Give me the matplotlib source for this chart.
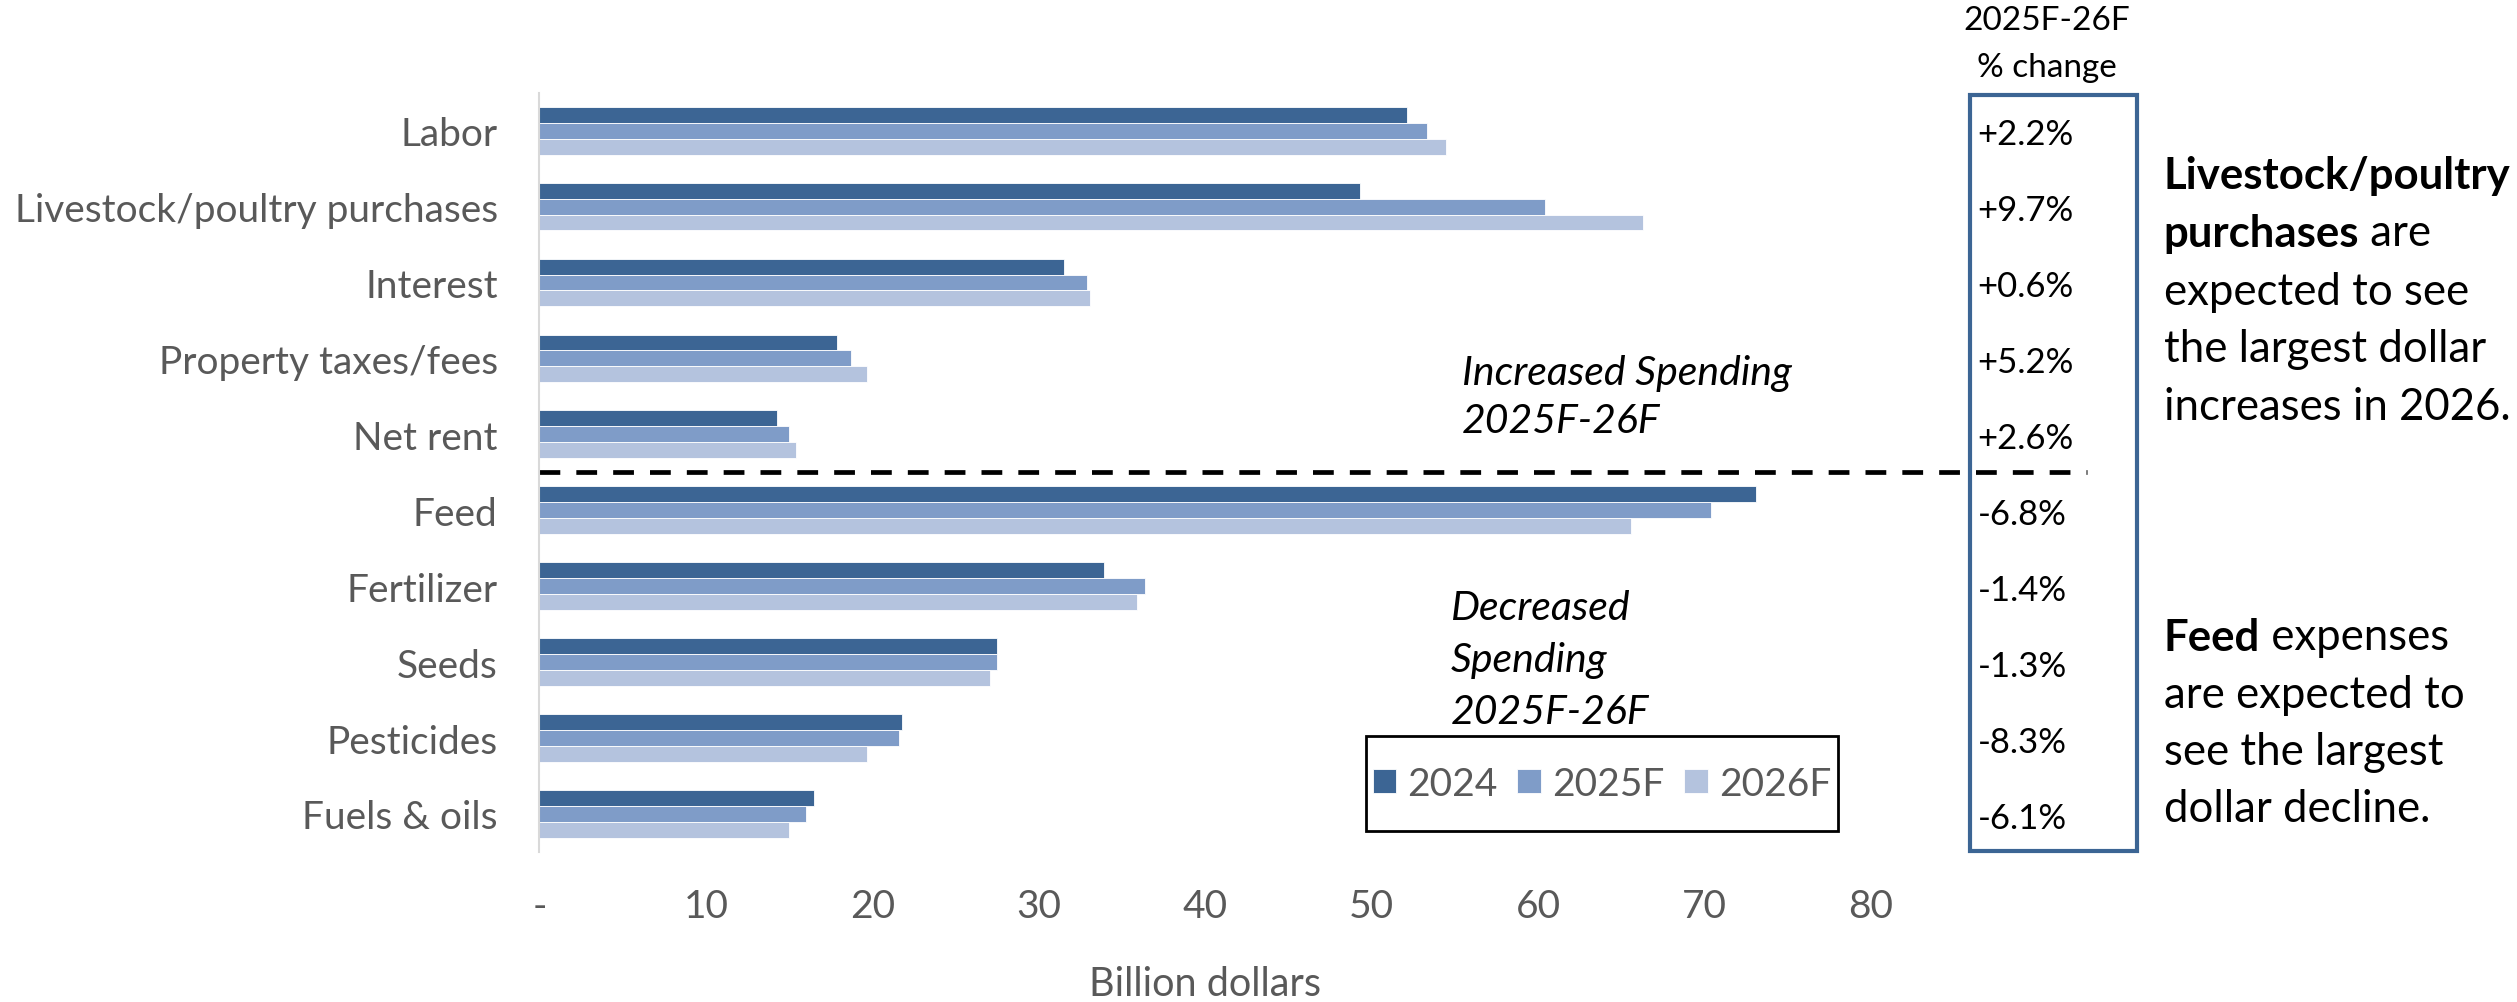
import numpy as np
import matplotlib
matplotlib.use("Agg")
import matplotlib.pyplot as plt
import matplotlib.transforms as mtransforms
from matplotlib.patches import Rectangle

# data (billion dollars)
categories = ["Labor", "Livestock/poultry purchases", "Interest", "Property taxes/fees", "Net rent",
              "Feed", "Fertilizer", "Seeds", "Pesticides", "Fuels & oils"]
vals_2024 = [52.1, 49.3, 31.5, 17.9, 14.3, 73.1, 33.9, 27.5, 21.8, 16.5]
vals_2025f = [53.3, 60.4, 32.9, 18.7, 15.0, 70.4, 36.4, 27.5, 21.6, 16.0]
vals_2026f = [54.5, 66.3, 33.1, 19.7, 15.4, 65.6, 35.9, 27.1, 19.7, 15.0]
series_names = ["2024", "2025F", "2026F"]
pct_change = ["+2.2%", "+9.7%", "+0.6%", "+5.2%", "+2.6%", "-6.8%", "-1.4%", "-1.3%", "-8.3%", "-6.1%"]
n_increase = 5  # first 5 categories go up
x_ticks = [0, 10, 20, 30, 40, 50, 60, 70, 80]
x_tick_labels = ["-", "10", "20", "30", "40", "50", "60", "70", "80"]

plt.rcParams["font.family"] = ["Lato", "DejaVu Sans"]
gray = "#595959"
colors = ["#3C6594", "#7F9CC8", "#B4C3DE"]

fig = plt.figure(figsize=(25.17, 10.03), dpi=100)
ax = fig.add_axes([0.2143, 0.1496, 0.529, 0.757])

y = np.arange(len(categories))
h = 0.21
for i, (vals, name, c) in enumerate(zip([vals_2024, vals_2025f, vals_2026f], series_names, colors)):
    ax.barh(y + (i - 1) * h, vals, height=h, color=c, edgecolor="white", linewidth=0.6, label=name)

ax.set_ylim(len(categories) - 0.5, -0.5)
ax.set_xlim(0, 80)
ax.set_yticks(y, categories)
ax.set_xticks(x_ticks, x_tick_labels)
ax.tick_params(length=0, labelsize=28, labelcolor=gray)
ax.tick_params(axis="y", pad=30)
ax.tick_params(axis="x", pad=26)
for s in ["top", "right", "bottom"]:
    ax.spines[s].set_visible(False)
ax.spines["left"].set_color("#D9D9D9")
ax.spines["left"].set_linewidth(1.5)

# divider between increased / decreased spending
ax.axhline(n_increase - 0.5, xmin=0, xmax=1.162, color="black", lw=3.4,
           linestyle=(0, (4.4, 3.4)), clip_on=False)

xlab_trans = mtransforms.blended_transform_factory(ax.transAxes, fig.transFigure)
ax.text(0.5, 0.018, "Billion dollars", transform=xlab_trans, ha="center", va="center",
        fontsize=28.5, color=gray)

# italic annotations
for k, line in enumerate(["Increased Spending", "2025F-26F"]):
    fig.text(0.5807, 0.628 - k * 0.048, line, style="italic", fontsize=29.5, va="center")
for k, line in enumerate(["Decreased", "Spending", "2025F-26F"]):
    fig.text(0.5765, 0.393 - k * 0.0515, line, style="italic", fontsize=29.5, va="center")

# legend in its own box
fig.patches.append(Rectangle((0.5427, 0.170), 0.1875, 0.095, transform=fig.transFigure,
                             fill=False, edgecolor="black", lw=2))
ax.legend(loc="center", bbox_to_anchor=(0.6365, 0.2175), bbox_transform=fig.transFigure,
          ncol=3, frameon=False, fontsize=28, labelcolor=gray, handlelength=0.6,
          handleheight=0.6, handletextpad=0.3, columnspacing=0.5)

# % change column
fig.patches.append(Rectangle((0.7825, 0.1506), 0.0665, 0.7534, transform=fig.transFigure,
                             fill=False, edgecolor="#3C6594", lw=3))
fig.text(0.8131, 0.979, "2025F-26F", ha="center", va="center", fontsize=24)
fig.text(0.8131, 0.932, "% change", ha="center", va="center", fontsize=24)
trans = mtransforms.blended_transform_factory(fig.transFigure, ax.transData)
for i, p in enumerate(pct_change):
    ax.text(0.7857, i + 0.05, p, transform=trans, fontsize=25, va="center", ha="left")

# side notes
def note(lines, x, y0, step):
    for k, (bold, rest) in enumerate(lines):
        yy = y0 - k * step
        if bold:
            t = fig.text(x, yy, bold, fontsize=31.5, weight="bold", va="baseline")
            if rest:
                ax.annotate(rest, xy=(1, 0), xycoords=t, va="bottom", fontsize=31.5)
        else:
            fig.text(x, yy, rest, fontsize=31.5, va="baseline")

note([("Livestock/poultry", ""), ("purchases", " are"), ("", "expected to see"),
      ("", "the largest dollar"), ("", "increases in 2026.")], 0.8597, 0.812, 0.0578)
note([("Feed", " expenses"), ("", "are expected to"), ("", "see the largest"),
      ("", "dollar decline.")], 0.8597, 0.3505, 0.0568)

fig.savefig("out.png", dpi=100)
